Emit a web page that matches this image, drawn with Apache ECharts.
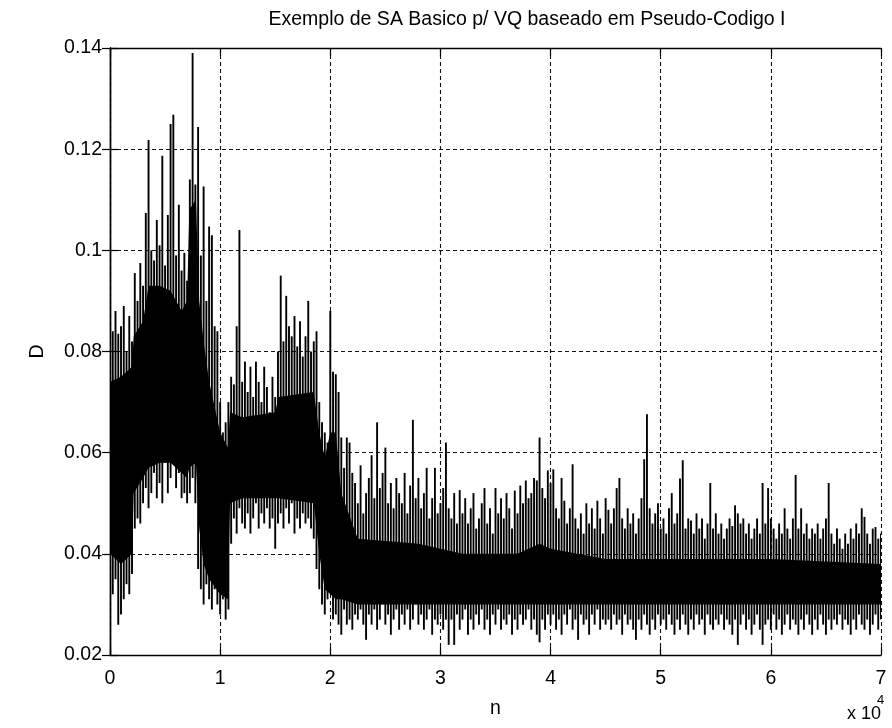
<!DOCTYPE html>
<html>
<head>
<meta charset="utf-8">
<script src="https://cdn.jsdelivr.net/npm/echarts@6/dist/echarts.min.js"></script>
<style>
  html, body { margin: 0; padding: 0; background: #fff; }
  #chart { width: 892px; height: 728px; }
</style>
</head>
<body>
<div id="chart"></div>
<script>
// Distortion D over the annealing iterations n.
// Each stroke spans the min/max of D within a block of STEP iterations.
const STEP = 250;
const strokeHi = [
  0.107, 0.084, 0.088, 0.0835, 0.085, 0.089, 0.080, 0.087, 0.082, 0.0955,
  0.090, 0.0975, 0.093, 0.1074, 0.1218, 0.100, 0.098, 0.106, 0.101, 0.1187,
  0.097, 0.107, 0.125, 0.1268, 0.099, 0.109, 0.096, 0.0995, 0.094, 0.114,
  0.139, 0.113, 0.1244, 0.099, 0.1126, 0.090, 0.1047, 0.103, 0.085, 0.084,
  0.070, 0.064, 0.066, 0.070, 0.075, 0.0735, 0.085, 0.104, 0.074, 0.078,
  0.072, 0.077, 0.071, 0.078, 0.074, 0.070, 0.077, 0.073, 0.068, 0.075,
  0.071, 0.080, 0.095, 0.082, 0.091, 0.085, 0.083, 0.087, 0.081, 0.086,
  0.079, 0.083, 0.090, 0.080, 0.082, 0.084, 0.070, 0.066, 0.064, 0.062,
  0.088, 0.076, 0.0755, 0.072, 0.063, 0.057, 0.063, 0.062, 0.056, 0.054,
  0.050, 0.0575, 0.048, 0.052, 0.055, 0.0595, 0.051, 0.066, 0.053, 0.056,
  0.061, 0.050, 0.054, 0.049, 0.055, 0.052, 0.050, 0.056, 0.048, 0.0535,
  0.0665, 0.051, 0.055, 0.049, 0.052, 0.057, 0.047, 0.051, 0.057, 0.048,
  0.050, 0.053, 0.062, 0.049, 0.047, 0.052, 0.046, 0.0526, 0.048, 0.051,
  0.046, 0.049, 0.052, 0.045, 0.047, 0.050, 0.053, 0.046, 0.049, 0.044,
  0.053, 0.048, 0.051, 0.047, 0.052, 0.049, 0.045, 0.0525, 0.048, 0.0535,
  0.050, 0.0545, 0.051, 0.052, 0.055, 0.0545, 0.063, 0.053, 0.051, 0.0565,
  0.054, 0.0567, 0.049, 0.047, 0.055, 0.0505, 0.046, 0.049, 0.0577, 0.047,
  0.045, 0.048, 0.044, 0.050, 0.046, 0.049, 0.045, 0.0505, 0.047, 0.044,
  0.051, 0.0487, 0.046, 0.049, 0.053, 0.055, 0.047, 0.045, 0.049, 0.046,
  0.048, 0.044, 0.047, 0.051, 0.0587, 0.0676, 0.049, 0.046, 0.048, 0.050,
  0.045, 0.047, 0.044, 0.049, 0.052, 0.046, 0.048, 0.0549, 0.0585, 0.045,
  0.047, 0.0466, 0.044, 0.048, 0.045, 0.047, 0.043, 0.046, 0.054, 0.045,
  0.048, 0.044, 0.046, 0.043, 0.045, 0.047, 0.0455, 0.0496, 0.048, 0.046,
  0.047, 0.044, 0.046, 0.043, 0.045, 0.047, 0.044, 0.054, 0.046, 0.053,
  0.047, 0.045, 0.043, 0.046, 0.044, 0.049, 0.045, 0.043, 0.047, 0.0556,
  0.045, 0.049, 0.044, 0.046, 0.043, 0.045, 0.044, 0.046, 0.043, 0.045,
  0.047, 0.054, 0.044, 0.042, 0.045, 0.043, 0.041, 0.044, 0.042, 0.045,
  0.043, 0.046, 0.044, 0.049, 0.0473, 0.044, 0.042, 0.045, 0.0453, 0.043, 0.044
];
const strokeLo = [
  0.040, 0.032, 0.035, 0.026, 0.028, 0.031, 0.034, 0.032, 0.036, 0.045,
  0.047, 0.046, 0.050, 0.053, 0.049, 0.052, 0.056, 0.051, 0.054, 0.050,
  0.058, 0.052, 0.055, 0.060, 0.053, 0.056, 0.051, 0.052, 0.050, 0.052,
  0.055, 0.050, 0.037, 0.033, 0.030, 0.034, 0.031, 0.029, 0.033, 0.030,
  0.028, 0.031, 0.027, 0.029, 0.042, 0.047, 0.044, 0.049, 0.046, 0.045,
  0.048, 0.044, 0.047, 0.050, 0.045, 0.048, 0.046, 0.049, 0.045, 0.047,
  0.041, 0.046, 0.048, 0.045, 0.049, 0.046, 0.050, 0.044, 0.047, 0.045,
  0.048, 0.046, 0.047, 0.045, 0.043, 0.037, 0.033, 0.030, 0.028, 0.031,
  0.036, 0.027, 0.028, 0.026, 0.024, 0.029, 0.026, 0.027, 0.025, 0.028,
  0.027, 0.029, 0.026, 0.023, 0.028, 0.026, 0.029, 0.025, 0.027, 0.030,
  0.026, 0.028, 0.024, 0.027, 0.029, 0.025, 0.028, 0.026, 0.029, 0.025,
  0.027, 0.030, 0.026, 0.028, 0.025, 0.027, 0.029, 0.024, 0.027, 0.026,
  0.028, 0.025, 0.027, 0.022, 0.027, 0.022, 0.028, 0.025, 0.027, 0.029,
  0.024, 0.027, 0.025, 0.028, 0.026, 0.029, 0.025, 0.027, 0.024, 0.028,
  0.026, 0.029, 0.025, 0.027, 0.026, 0.028, 0.024, 0.027, 0.025, 0.028,
  0.026, 0.027, 0.029, 0.025, 0.027, 0.024, 0.0225, 0.027, 0.025, 0.028,
  0.026, 0.028, 0.025, 0.027, 0.024, 0.028, 0.026, 0.029, 0.025, 0.027,
  0.023, 0.028, 0.026, 0.027, 0.024, 0.028, 0.026, 0.029, 0.025, 0.027,
  0.026, 0.027, 0.025, 0.028, 0.026, 0.027, 0.024, 0.028, 0.026, 0.027,
  0.025, 0.023, 0.027, 0.025, 0.028, 0.026, 0.024, 0.027, 0.025, 0.028,
  0.026, 0.027, 0.025, 0.028, 0.026, 0.024, 0.027, 0.025, 0.028, 0.026,
  0.024, 0.027, 0.025, 0.028, 0.026, 0.027, 0.024, 0.028, 0.026, 0.025,
  0.027, 0.026, 0.028, 0.025, 0.027, 0.026, 0.024, 0.027, 0.022, 0.026,
  0.028, 0.025, 0.027, 0.024, 0.026, 0.028, 0.025, 0.022, 0.026, 0.027,
  0.025, 0.028, 0.025, 0.027, 0.024, 0.026, 0.028, 0.025, 0.027, 0.026,
  0.024, 0.027, 0.025, 0.028, 0.026, 0.024, 0.027, 0.025, 0.028, 0.026,
  0.024, 0.027, 0.025, 0.027, 0.026, 0.028, 0.025, 0.027, 0.026, 0.024,
  0.027, 0.025, 0.028, 0.026, 0.025, 0.027, 0.024, 0.026, 0.028, 0.025, 0.027
];

// Dense core of the trace (where the samples overlap completely).
const coreN  = [0, 1000, 2000, 2150, 3000, 3500, 4500, 5500, 6500, 7000,
                7200, 7800, 8100, 8500, 9000, 10000, 10700, 10900, 12000, 15000,
                15300, 18500, 19000, 19500, 20000, 20500, 21000, 22500, 28000, 32000,
                37000, 39000, 40000, 45000, 50000, 60000, 70000];
const coreLo = [0.040, 0.038, 0.040, 0.052, 0.055, 0.057, 0.058, 0.058, 0.056, 0.055,
                0.057, 0.058, 0.045, 0.038, 0.035, 0.032, 0.031, 0.050, 0.051, 0.051,
                0.051, 0.050, 0.040, 0.033, 0.032, 0.031, 0.031, 0.030, 0.030, 0.030,
                0.030, 0.030, 0.030, 0.030, 0.030, 0.030, 0.030];
const coreHi = [0.074, 0.075, 0.077, 0.083, 0.086, 0.093, 0.093, 0.092, 0.088, 0.090,
                0.108, 0.110, 0.090, 0.082, 0.074, 0.064, 0.061, 0.068, 0.067, 0.068,
                0.071, 0.072, 0.064, 0.059, 0.064, 0.064, 0.052, 0.043, 0.042, 0.040,
                0.040, 0.042, 0.041, 0.039, 0.039, 0.039, 0.038];

const xTickLabels = ['0', '1', '2', '3', '4', '5', '6', '7'];
const yTickLabels = ['0.02', '0.04', '0.06', '0.08', '0.1', '0.12', '0.14'];

const FONT = 'Liberation Sans, Arial, sans-serif';
const FS = 19.5;
const INK = '#000';

const strokes = strokeHi.map((h, i) => [i * STEP, strokeLo[i], h]);
const core = coreN.map((n, i) => [n, coreLo[i], coreHi[i]]);

const gridDash = { color: '#111', width: 1.1, type: [4, 3] };
const axisLineStyle = { lineStyle: { color: INK, width: 1.4 } };
const tickStyle = { inside: true, length: 8, lineStyle: { color: INK, width: 1.2 } };
const labelStyle = { color: INK, fontSize: FS, fontFamily: FONT };

// The core band is drawn as one closed polygon: upper edge left to right,
// then the lower edge back from right to left.
function renderCore(params, api) {
  if (params.dataIndex !== 0) return null;
  const upper = core.map(d => api.coord([d[0], d[2]]));
  const lower = core.slice().reverse().map(d => api.coord([d[0], d[1]]));
  return {
    type: 'polygon',
    shape: { points: upper.concat(lower) },
    style: { fill: INK, stroke: null }
  };
}

function renderStroke(params, api) {
  const a = api.coord([api.value(0), api.value(1)]);
  const b = api.coord([api.value(0), api.value(2)]);
  return {
    type: 'line',
    shape: { x1: a[0], y1: a[1], x2: b[0], y2: b[1] },
    style: { stroke: INK, lineWidth: 1.9 }
  };
}

const chart = echarts.init(document.getElementById('chart'), null, { renderer: 'canvas' });
chart.setOption({
  backgroundColor: '#fff',
  animation: false,
  grid: { left: 110, right: 11, top: 48, bottom: 73, containLabel: false },
  xAxis: [
    {
      type: 'value', min: 0, max: 70000, interval: 10000, position: 'bottom',
      axisLine: axisLineStyle, axisTick: tickStyle,
      axisLabel: Object.assign({ margin: 14,
        formatter: v => xTickLabels[Math.round(v / 10000)] }, labelStyle),
      splitLine: { show: true, lineStyle: gridDash },
      name: 'n', nameLocation: 'middle', nameGap: 44,
      nameTextStyle: { color: INK, fontSize: FS, fontFamily: FONT }
    },
    {
      type: 'value', min: 0, max: 70000, interval: 10000, position: 'top',
      axisLine: axisLineStyle, axisTick: tickStyle,
      axisLabel: { show: false }, splitLine: { show: false }
    }
  ],
  yAxis: [
    {
      type: 'value', min: 0.02, max: 0.14, interval: 0.02, position: 'left',
      axisLine: axisLineStyle, axisTick: tickStyle,
      axisLabel: Object.assign({ margin: 8,
        formatter: v => yTickLabels[Math.round((v - 0.02) / 0.02)] }, labelStyle),
      splitLine: { show: true, lineStyle: gridDash },
      name: 'D', nameLocation: 'middle', nameGap: 62, nameRotate: 90,
      nameTextStyle: { color: INK, fontSize: FS, fontFamily: FONT }
    },
    {
      type: 'value', min: 0.02, max: 0.14, interval: 0.02, position: 'right',
      axisLine: axisLineStyle, axisTick: tickStyle,
      axisLabel: { show: false }, splitLine: { show: false }
    }
  ],
  series: [
    {
      type: 'custom', data: core, clip: true, silent: true,
      encode: { x: 0, y: [1, 2] }, renderItem: renderCore
    },
    {
      type: 'custom', data: strokes, clip: true, silent: true,
      encode: { x: 0, y: [1, 2] }, renderItem: renderStroke
    }
  ],
  graphic: [
    {
      type: 'text', x: 527, y: 20,
      style: { text: 'Exemplo de SA Basico p/ VQ baseado em Pseudo-Codigo I',
        font: FS + 'px ' + FONT, fill: INK, align: 'center', verticalAlign: 'middle',
        textAlign: 'center', textVerticalAlign: 'middle' }
    },
    {
      type: 'text', x: 847, y: 714,
      style: { text: 'x 10', font: '18px ' + FONT, fill: INK,
        align: 'left', verticalAlign: 'middle', textAlign: 'left', textVerticalAlign: 'middle' }
    },
    {
      type: 'text', x: 877, y: 700,
      style: { text: '4', font: '13px ' + FONT, fill: INK,
        align: 'left', verticalAlign: 'middle', textAlign: 'left', textVerticalAlign: 'middle' }
    }
  ]
});
</script>
</body>
</html>
